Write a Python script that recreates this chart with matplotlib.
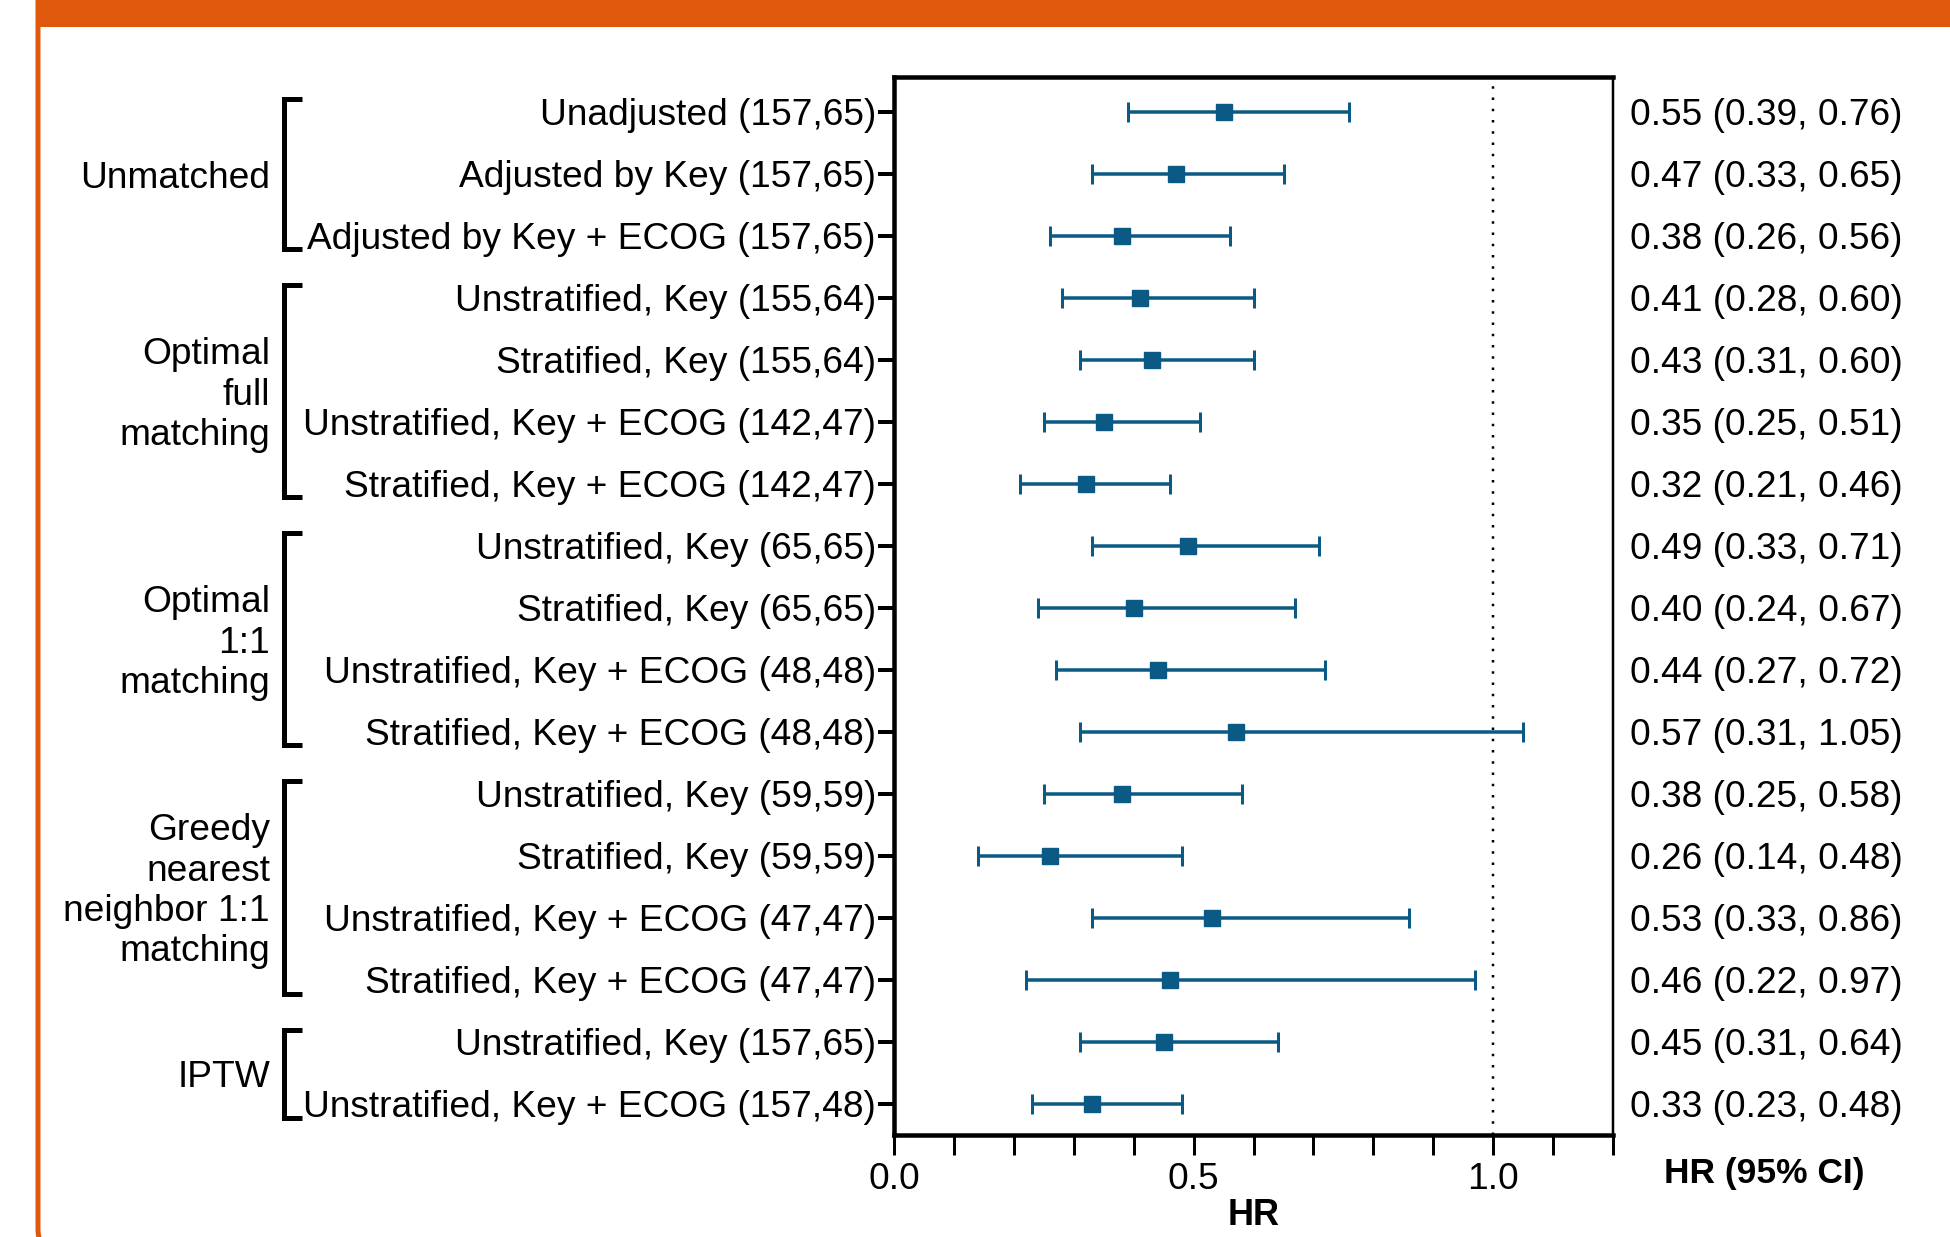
import numpy as np
import matplotlib
matplotlib.use("Agg")
import matplotlib.pyplot as plt
from matplotlib.patches import FancyBboxPatch, Rectangle
from matplotlib.transforms import blended_transform_factory

plt.rcParams['font.family'] = ['Liberation Sans', 'DejaVu Sans']

# data
row_labels = [
    "Unadjusted (157,65)",
    "Adjusted by Key (157,65)",
    "Adjusted by Key + ECOG (157,65)",
    "Unstratified, Key (155,64)",
    "Stratified, Key (155,64)",
    "Unstratified, Key + ECOG (142,47)",
    "Stratified, Key + ECOG (142,47)",
    "Unstratified, Key (65,65)",
    "Stratified, Key (65,65)",
    "Unstratified, Key + ECOG (48,48)",
    "Stratified, Key + ECOG (48,48)",
    "Unstratified, Key (59,59)",
    "Stratified, Key (59,59)",
    "Unstratified, Key + ECOG (47,47)",
    "Stratified, Key + ECOG (47,47)",
    "Unstratified, Key (157,65)",
    "Unstratified, Key + ECOG (157,48)",
]
hr = [0.55, 0.47, 0.38, 0.41, 0.43, 0.35, 0.32, 0.49, 0.40, 0.44, 0.57,
      0.38, 0.26, 0.53, 0.46, 0.45, 0.33]
ci_low = [0.39, 0.33, 0.26, 0.28, 0.31, 0.25, 0.21, 0.33, 0.24, 0.27, 0.31,
          0.25, 0.14, 0.33, 0.22, 0.31, 0.23]
ci_high = [0.76, 0.65, 0.56, 0.60, 0.60, 0.51, 0.46, 0.71, 0.67, 0.72, 1.05,
           0.58, 0.48, 0.86, 0.97, 0.64, 0.48]
group_names = ["Unmatched", "Optimal\nfull\nmatching", "Optimal\n1:1\nmatching",
               "Greedy\nnearest\nneighbor 1:1\nmatching", "IPTW"]
group_sizes = [3, 4, 4, 4, 2]

blue = "#0b5a85"
orange = "#e0580c"
px = 72 / 100  # points per pixel at dpi 100
fs = 26.75

fig = plt.figure(figsize=(19.5, 12.37), dpi=100)
ax = fig.add_axes([0.4585, 0.0825, 0.3687, 0.8553])

y = np.arange(len(hr))
hr_a = np.array(hr)
err = [hr_a - np.array(ci_low), np.array(ci_high) - hr_a]
ax.errorbar(hr, y, xerr=err, fmt="s", color=blue, ms=16 * px, lw=3.5 * px,
            capsize=10 * px, capthick=3 * px, zorder=3)
ax.axvline(1.0, color="black", ls=(0, (1, 3.5)), lw=2.5 * px, zorder=1)

ax.set_xlim(0, 1.2)
ax.set_ylim(len(hr) - 0.5, -0.56)
ax.set_yticks(y)
ax.set_yticklabels(row_labels, fontsize=fs)
ax.set_xticks([0, 0.5, 1.0])
ax.set_xticklabels(["0.0", "0.5", "1.0"], fontsize=fs)
ax.set_xticks([0.1, 0.2, 0.3, 0.4, 0.6, 0.7, 0.8, 0.9, 1.1, 1.2], minor=True)
ax.tick_params(axis="y", length=16 * px, width=4 * px, pad=1.5)
ax.tick_params(axis="x", which="both", length=20 * px, width=3 * px, pad=5)
ax.set_xlabel("HR", fontsize=26, fontweight="bold", labelpad=1)

for side in ["left", "bottom", "top"]:
    ax.spines[side].set_linewidth(4.5 * px)
ax.spines["right"].set_linewidth(2.5 * px)

# right-hand column
tr_right = blended_transform_factory(fig.transFigure, ax.transData)
for i in range(len(hr)):
    fig.text(0.836, i, f"{hr[i]:.2f} ({ci_low[i]:.2f}, {ci_high[i]:.2f})",
             transform=tr_right, fontsize=fs, va="center_baseline", ha="left")
fig.text(0.905, 0.0517, "HR (95% CI)", fontsize=25.5, fontweight="bold",
         ha="center", va="center")

# group brackets
start = 0
for name, n in zip(group_names, group_sizes):
    top = start - 0.2
    bot = start + n - 1 + 0.22
    ax.plot([0.1549, 0.1456, 0.1456, 0.1549], [top, top, bot, bot],
            transform=tr_right, color="black", lw=5 * px, clip_on=False,
            solid_joinstyle="miter", solid_capstyle="butt")
    ax.text(0.1385, start + (n - 1) / 2 + 0.07, name, transform=tr_right,
            ha="right", va="center", fontsize=fs, linespacing=1.2)
    start += n

# orange frame and banner
frame = FancyBboxPatch((38, -20), 2000, 1400, boxstyle="round,pad=0,rounding_size=28",
                       transform=None, fill=False, edgecolor=orange,
                       lw=5 * px, zorder=0)
fig.patches.append(frame)
banner = Rectangle((38, 1237 - 27), 2000, 60, transform=None,
                   facecolor=orange, edgecolor="none", zorder=0)
fig.patches.append(banner)

fig.savefig("out.png", dpi=100)
